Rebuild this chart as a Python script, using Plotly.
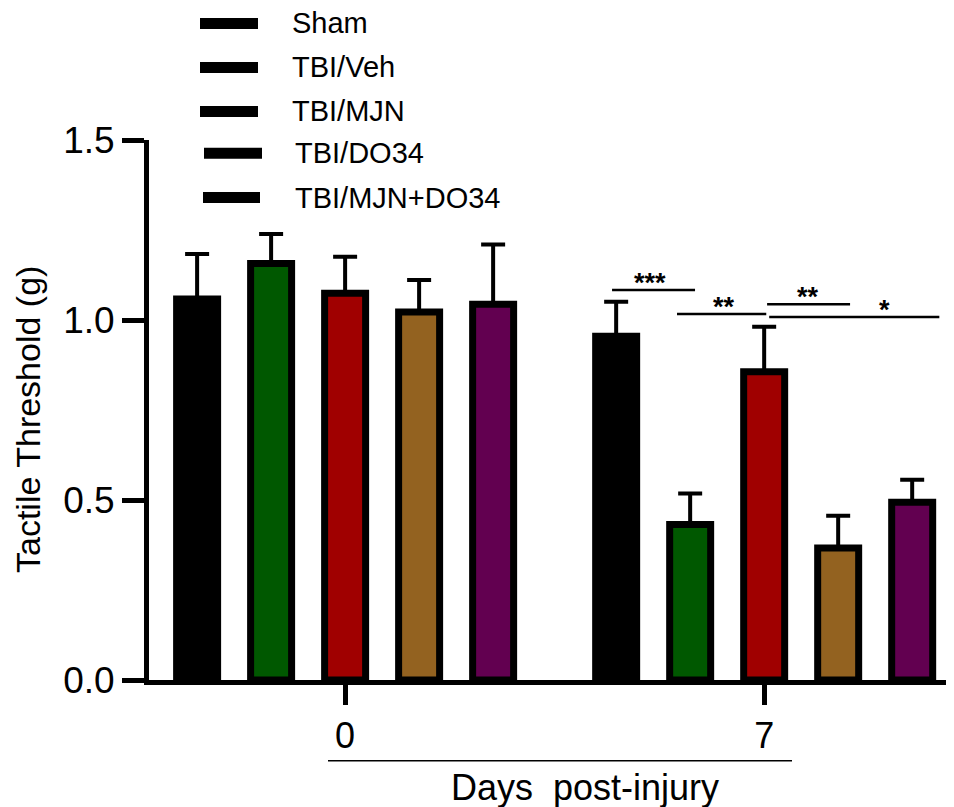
import plotly.graph_objects as go

# ---- data ----
groups = ["Sham", "TBI/Veh", "TBI/MJN", "TBI/DO34", "TBI/MJN+DO34"]
days = ["0", "7"]
means_day0 = [1.058, 1.157, 1.074, 1.022, 1.044]
means_day7 = [0.955, 0.432, 0.856, 0.367, 0.494]
sem_day0 = [0.125, 0.082, 0.102, 0.089, 0.166]
sem_day7 = [0.096, 0.086, 0.125, 0.089, 0.062]
colors = ["#000000", "#005800", "#a00000", "#936220", "#620050"]

# significance brackets (day 7): x0, x1 (category units), y, label
sig_x0 = [0.637, 0.792, 1.007, 1.012]
sig_x1 = [0.835, 1.005, 1.205, 1.418]
sig_y = [1.083, 1.017, 1.044, 1.008]
sig_labels = ["***", "**", "**", "*"]
sig_text_x = [0.728, 0.905, 1.104, 1.287]

# ---- layout helpers (page has an 8px body margin) ----
OFF = 8
W, H = 954 - OFF, 807 - OFF
L, R, T, B = 149 - OFF, 0, 140 - OFF, 127
pw, ph = W - L - R, H - T - B


def px_x(px):
    return (px - OFF - L) / pw


def px_y(py):
    return (H - B - (py - OFF)) / ph


FONT = "Liberation Sans, Arial, sans-serif"

fig = go.Figure()
for i, g in enumerate(groups):
    fig.add_trace(go.Bar(
        name=g,
        x=days,
        y=[means_day0[i], means_day7[i]],
        marker=dict(color=colors[i], line=dict(color="black", width=7)),
        error_y=dict(type="data", symmetric=False,
                     array=[sem_day0[i], sem_day7[i]],
                     arrayminus=[0, 0],
                     color="black", thickness=4, width=12),
        showlegend=False,
    ))

shapes = []
annotations = []

# significance brackets
for x0, x1, y, lab, tx in zip(sig_x0, sig_x1, sig_y, sig_labels, sig_text_x):
    shapes.append(dict(type="line", xref="x", yref="y", x0=x0, x1=x1, y0=y, y1=y,
                       line=dict(color="black", width=2.5)))
    annotations.append(dict(x=tx, y=y, xref="x", yref="y", text="<b>" + lab + "</b>",
                            showarrow=False, yanchor="bottom", yshift=-10,
                            font=dict(family=FONT, size=27, color="black")))

# custom legend (black bars + labels)
leg_y = [23.5, 67.5, 111.5, 153.3, 197.5]
leg_x0 = [200, 200, 200, 204, 203]
leg_x1 = [258, 258, 258, 262, 260]
leg_tx = [290, 290, 290, 293, 293]
for g, ly, a, b, tx in zip(groups, leg_y, leg_x0, leg_x1, leg_tx):
    shapes.append(dict(type="line", xref="paper", yref="paper",
                       x0=px_x(a), x1=px_x(b), y0=px_y(ly), y1=px_y(ly),
                       line=dict(color="black", width=11)))
    annotations.append(dict(x=px_x(tx), y=px_y(ly), xref="paper", yref="paper",
                            text=g, showarrow=False, xanchor="left", yanchor="middle",
                            font=dict(family=FONT, size=29, color="black")))

# line under tick labels + x title
shapes.append(dict(type="line", xref="paper", yref="paper",
                   x0=px_x(328), x1=px_x(792), y0=px_y(760.7), y1=px_y(760.7),
                   line=dict(color="black", width=1.5)))
annotations.append(dict(x=px_x(585), y=px_y(787), xref="paper", yref="paper",
                        text="Days\u00a0 post-injury", showarrow=False,
                        xanchor="center", yanchor="middle",
                        font=dict(family=FONT, size=36, color="black")))
# y title
annotations.append(dict(x=px_x(28), y=px_y(420), xref="paper", yref="paper",
                        text="Tactile Threshold (g)", showarrow=False, textangle=-90,
                        xanchor="center", yanchor="middle",
                        font=dict(family=FONT, size=34, color="black")))

fig.update_layout(
    width=W, height=H,
    margin=dict(l=L, r=R, t=T, b=B),
    plot_bgcolor="white", paper_bgcolor="white",
    barmode="group", bargap=0.117, bargroupgap=0.446,
    shapes=shapes, annotations=annotations,
    font=dict(family=FONT, color="black"),
    xaxis=dict(type="category", range=[-0.468, 1.453],
               showline=True, linecolor="black", linewidth=5,
               ticks="outside", ticklen=20, tickwidth=5, tickcolor="black",
               tickfont=dict(family=FONT, size=36, color="black"),
               showgrid=False, zeroline=False),
    yaxis=dict(range=[0, 1.5], tickvals=[0, 0.5, 1.0, 1.5],
               ticktext=["0.0", "0.5", "1.0", "1.5"],
               showline=True, linecolor="black", linewidth=5,
               ticks="outside", ticklen=22, tickwidth=5, tickcolor="black",
               tickfont=dict(family=FONT, size=37, color="black"),
               showgrid=False, zeroline=False),
)

fig.write_html("out.html")
